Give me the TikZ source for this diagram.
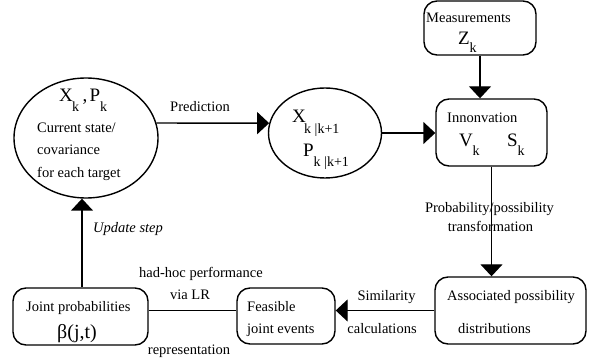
\documentclass[tikz,border=0pt]{standalone}
\usepackage{fontspec}
\setmainfont{Liberation Serif}
\usetikzlibrary{arrows.meta,shapes.geometric}
\begin{document}
\begin{tikzpicture}[x=1pt,y=-1pt,
  conn/.style={line width=1.4pt},
  arr/.style={conn,-{Triangle[length=12pt,width=22pt]}},
  bx/.style={draw,line width=1.4pt,rounded corners=13pt,inner sep=0pt},
  ell/.style={draw,ellipse,line width=1.4pt,inner sep=0pt},
  txt/.style={font=\fontsize{14.5}{17}\selectfont,inner sep=0pt,anchor=base west},
  ctxt/.style={font=\fontsize{14.5}{17}\selectfont,inner sep=0pt,anchor=base},
  big/.style={font=\fontsize{19}{22}\selectfont,inner sep=0pt,anchor=base west},
  sub/.style={font=\fontsize{14}{16}\selectfont,inner sep=0pt,anchor=base west},
]
\useasboundingbox (0,0) rectangle (592,358);

% shapes
\node[ell,minimum width=144pt,minimum height=120pt] (e1) at (86,138) {};
\node[ell,minimum width=113pt,minimum height=90pt] (e2) at (325,133) {};
\node[bx,minimum width=112pt,minimum height=54pt] (meas) at (480,28) {};
\node[bx,minimum width=111pt,minimum height=67pt] (inn) at (491.5,132.5) {};
\node[bx,minimum width=151pt,minimum height=67pt] (assoc) at (510.5,310.5) {};
\node[bx,minimum width=98pt,minimum height=56pt] (feas) at (286,316) {};
\node[bx,minimum width=135pt,minimum height=57pt] (jp) at (80.5,316.5) {};

% connectors
\draw[arr] (e1.12) -- (e2.170);
\draw[arr] (e2.east) -- (e2.east -| inn.west);
\draw[arr] (meas.south) -- (meas.south |- inn.north);
\draw[arr] (inn.south) -- (inn.south |- assoc.north);
\draw[arr] (assoc.west) -- (assoc.west -| feas.east);
\draw[conn] (jp.east |- assoc.west) -- (feas.west |- assoc.west);
\draw[arr] ([xshift=1.5pt]jp.north) -- ([xshift=1.5pt]jp.north |- e1.south);

% ellipse 1 texts
\node[big] (x1) at (59,102) {X};
\node[sub] (x1k) at (72,112) {k};
\node[big] (cm1) at (82.5,102) {,};
\node[big] (p1) at (89.5,102) {P};
\node[sub] (p1k) at (100,112) {k};
\node[txt] (t1) at (37,133) {Current state/};
\node[txt] (t2) at (37,155) {covariance};
\node[txt] (t3) at (37,178) {for each target};

% ellipse 2 texts
\node[big] (x2) at (292,123) {X};
\node[sub] (x2k) at (304,133.5) {k |k+1};
\node[big] (p2) at (303,157) {P};
\node[sub] (p2k) at (313.5,167) {k |k+1};

% measurements
\node[txt] (mt) at (426,23) {Measurements};
\node[big] (z) at (458,45) {Z};
\node[sub] (zk) at (469.5,53) {k};

% innovation
\node[txt] (it) at (447,123) {Innonvation};
\node[big] (v) at (459,146.5) {V};
\node[sub] (vk) at (472.5,156) {k};
\node[big] (s) at (507,146.5) {S};
\node[sub] (sk) at (517.5,156) {k};

% associated
\node[txt] (a1) at (447,301) {Associated possibility};
\node[txt] (a2) at (458,333) {distributions};

% feasible
\node[txt] (f1) at (247,312) {Feasible};
\node[txt] (f2) at (247,333) {joint events};

% joint
\node[txt] (j1) at (26,312) {Joint probabilities};
\node[font=\fontsize{20}{23}\selectfont,inner sep=0pt,anchor=base] (beta) at (77,338) {β(j,t)};

% labels
\node[ctxt] (lpred) at (200,112) {Prediction};
\node[ctxt] (lprob) at (489.5,213) {Probability/possibility};
\node[ctxt] (ltrans) at (490.5,232) {transformation};
\node[ctxt] (lsim) at (386.5,301) {Similarity};
\node[ctxt] (lcalc) at (382,333) {calculations};
\node[txt,font=\fontsize{14.5}{17}\selectfont\itshape] (lupd) at (93,233) {Update step};
\node[ctxt] (lhad) at (201,277) {had-hoc performance};
\node[ctxt] (lvia) at (190,300) {via LR};
\node[ctxt] (lrep) at (189,354) {representation};
\end{tikzpicture}
\end{document}
